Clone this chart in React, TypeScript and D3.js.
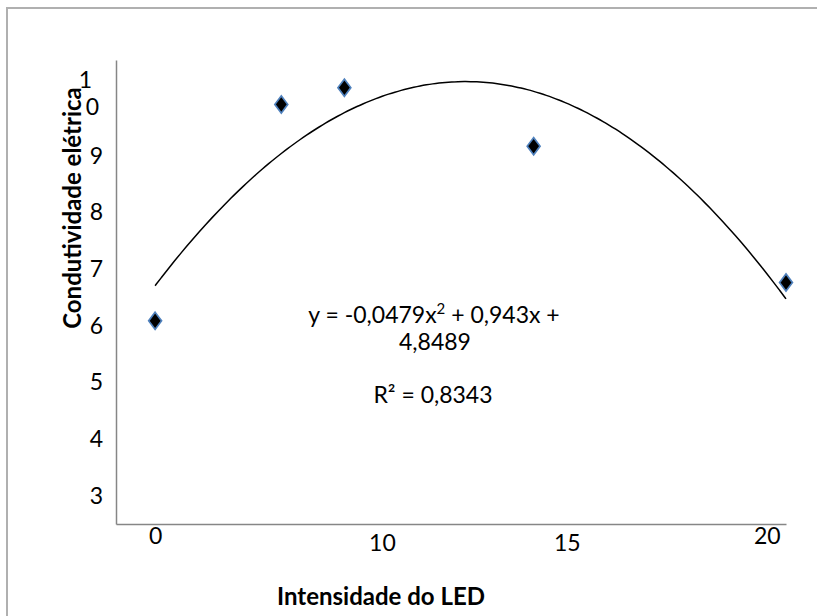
import React, { useRef, useEffect } from 'react';
import * as d3 from 'd3';

// LED intensity vs electrical conductivity
const intensity = [0, 4, 6, 12, 20];
const conductivity = [4.05, 8.97, 9.35, 8.02, 4.92];

// polynomial trendline y = a x^2 + b x + c
const trendCoef = [-0.0479, 0.943, 4.8489];

// tick labels as they appear in the original
const yTickLabels = [3, 4, 5, 6, 7, 8, 9, 10];
const xTickLabels = ['0', '10', '15', '20'];
const xTickAt = [0, 7.19, 13.05, 19.39];
const xTickDrop = [0, 7, 7, 0];

const FONT = 'Lato, "Open Sans", sans-serif';

const App = () => {
  const ref = useRef<SVGSVGElement | null>(null);

  useEffect(() => {
    if (!ref.current) return;
    const svg = d3.select(ref.current);
    svg.selectAll('*').remove();

    const left = 116, right = 786, top = 60, bottom = 524;

    const x = d3.scaleLinear().domain([-1.24, 20]).range([left, right]);
    const y = d3.scaleLinear().domain([-0.57, 9.98]).range([bottom, top]);
    // the printed y labels don't follow the data scale
    const yLab = d3.scaleLinear().domain([2.5, 10.69]).range([bottom, top]);

    // outer frame
    svg.append('rect')
      .attr('x', 7).attr('y', 8)
      .attr('width', 830).attr('height', 630)
      .attr('fill', 'white')
      .attr('stroke', '#b0b0b0')
      .attr('stroke-width', 2);

    // y axis
    const gy = svg.append('g')
      .attr('transform', `translate(${left},0)`)
      .call(d3.axisLeft(yLab).tickValues(yTickLabels).tickSize(0).tickSizeOuter(0).tickPadding(13));
    gy.select('.domain').attr('stroke', '#868686').attr('stroke-width', 1.5);
    gy.selectAll('text')
      .attr('font-family', FONT)
      .attr('font-size', 23)
      .attr('fill', '#000');
    // "10" wraps onto two lines in the original
    gy.selectAll<SVGTextElement, number>('text')
      .filter(d => d === 10)
      .each(function () {
        const t = d3.select(this);
        t.text(null).attr('dy', null);
        t.append('tspan').attr('x', -24).attr('dy', '-0.5em').text('1');
        t.append('tspan').attr('x', -17).attr('dy', '1.15em').text('0');
      });

    // x axis
    const gx = svg.append('g')
      .attr('transform', `translate(0,${bottom})`)
      .call(d3.axisBottom(x).tickValues(xTickAt)
        .tickFormat((_, i) => xTickLabels[i]).tickSize(0).tickSizeOuter(0).tickPadding(5));
    gx.select('.domain').attr('stroke', '#868686').attr('stroke-width', 1.5);
    gx.selectAll<SVGTextElement, number>('text')
      .attr('font-family', FONT)
      .attr('font-size', 23)
      .attr('fill', '#000')
      .attr('y', (_, i) => 4 + xTickDrop[i]);

    // trendline
    const [a, b, c] = trendCoef;
    const xs = d3.range(0, 20.001, 0.2);
    svg.append('path')
      .datum(xs)
      .attr('fill', 'none')
      .attr('stroke', '#000')
      .attr('stroke-width', 1.5)
      .attr('d', d3.line<number>().x(d => x(d)).y(d => y(a * d * d + b * d + c)).curve(d3.curveBasis));

    // markers
    const diamond = d3.symbol().type(d3.symbolDiamond).size(85);
    svg.selectAll('path.pt')
      .data(intensity)
      .join('path')
      .attr('class', 'pt')
      .attr('transform', (d, i) => `translate(${x(d)},${y(conductivity[i])}) scale(1.3,1)`)
      .attr('d', diamond)
      .attr('fill', '#000')
      .attr('stroke', '#4f81bd')
      .attr('stroke-width', 1.4);

    // equation label
    const eq = svg.append('text')
      .attr('font-family', FONT)
      .attr('font-size', 23)
      .attr('text-anchor', 'middle')
      .attr('fill', '#000');
    const l1 = eq.append('tspan').attr('x', 434).attr('y', 323);
    l1.append('tspan').text('y = -0,0479x');
    l1.append('tspan').attr('font-size', 15).attr('dy', -9).text('2');
    l1.append('tspan').attr('dy', 9).text(' + 0,943x +');
    eq.append('tspan').attr('x', 435).attr('y', 350).text('4,8489');

    svg.append('text')
      .attr('font-family', FONT)
      .attr('font-size', 23)
      .attr('text-anchor', 'middle')
      .attr('x', 433).attr('y', 403)
      .text('R² = 0,8343');

    // axis titles
    svg.append('text')
      .attr('font-family', FONT)
      .attr('font-size', 24)
      .attr('font-weight', 'bold')
      .attr('text-anchor', 'middle')
      .attr('transform', 'translate(81,208) rotate(-90)')
      .text('Condutividade elétrica');

    svg.append('text')
      .attr('font-family', FONT)
      .attr('font-size', 24)
      .attr('font-weight', 'bold')
      .attr('text-anchor', 'middle')
      .attr('x', 381).attr('y', 605)
      .text('Intensidade do LED');
  }, []);

  return (
    <svg ref={ref} width={817} height={616}
      style={{ position: 'absolute', left: 0, top: 0, background: 'white' }} />
  );
};

export default App;
